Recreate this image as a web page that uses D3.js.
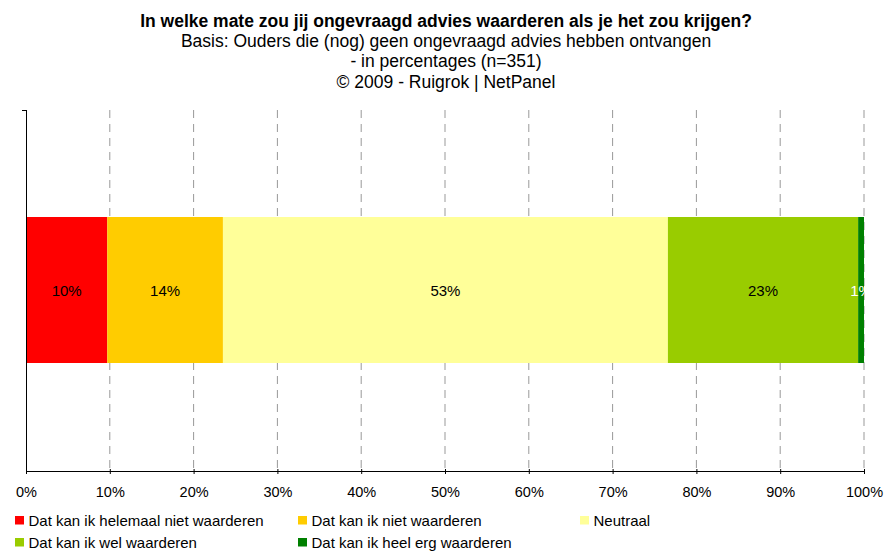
<!DOCTYPE html>
<html>
<head>
<meta charset="utf-8">
<script src="https://cdn.jsdelivr.net/npm/d3@7"></script>
<style>
  body { margin: 0; background: #fff; }
  svg { font-family: "Liberation Sans", Arial, sans-serif; }
</style>
</head>
<body>
<script>
const width = 895;
const height = 552;

// Data
const categories = ['Dat kan ik helemaal niet waarderen', 'Dat kan ik niet waarderen', 'Neutraal', 'Dat kan ik wel waarderen', 'Dat kan ik heel erg waarderen'];
const values = [9.7, 13.8, 53.1, 22.7, 0.7];
const labels = ['10%', '14%', '53%', '23%', '1%'];
const colors = ['#ff0000', '#ffcc00', '#ffff99', '#99cc00', '#008000'];
const labelColors = ['#000', '#000', '#000', '#000', '#fff'];
const tickValues = [0, 10, 20, 30, 40, 50, 60, 70, 80, 90, 100];
const titleLines = [
  'In welke mate zou jij ongevraagd advies waarderen als je het zou krijgen?',
  'Basis: Ouders die (nog) geen ongevraagd advies hebben ontvangen',
  '- in percentages (n=351)',
  '\u00A9  2009 - Ruigrok | NetPanel'
];

const plot = { left: 26, right: 864, top: 110, bottom: 471 };

const svg = d3.select('body').append('svg')
  .attr('width', width)
  .attr('height', height);

// Titles
const titleY = [26.5, 46.5, 67, 88];
svg.selectAll('text.title')
  .data(titleLines)
  .enter().append('text')
  .attr('class', 'title')
  .attr('x', 446)
  .attr('y', (d, i) => titleY[i])
  .attr('text-anchor', 'middle')
  .attr('font-size', (d, i) => i === 0 ? '17.5px' : '17.5px')
  .attr('font-weight', (d, i) => i === 0 ? 'bold' : 'normal')
  .text(d => d);

const x = d3.scaleLinear().domain([0, 100]).range([plot.left, plot.right]);

// Grid lines
svg.append('g')
  .selectAll('line')
  .data(tickValues.filter(d => d > 0))
  .enter().append('line')
  .attr('x1', d => x(d))
  .attr('x2', d => x(d))
  .attr('y1', plot.top)
  .attr('y2', plot.bottom)
  .attr('stroke', '#999')
  .attr('stroke-dasharray', '8,6')
  .attr('stroke-width', 1);

// Stacked segments
let acc = 0;
const segs = values.map((v, i) => {
  const s = { start: acc, end: acc + v, color: colors[i], label: labels[i], labelColor: labelColors[i] };
  acc += v;
  return s;
});

svg.append('defs').append('clipPath').attr('id', 'plotclip')
  .append('rect')
  .attr('x', plot.left).attr('y', plot.top)
  .attr('width', plot.right - plot.left + 1)
  .attr('height', plot.bottom - plot.top);

const barY = 217, barH = 146;

svg.append('g')
  .selectAll('rect')
  .data(segs)
  .enter().append('rect')
  .attr('x', d => x(d.start))
  .attr('y', barY)
  .attr('width', d => x(d.end) - x(d.start))
  .attr('height', barH)
  .attr('fill', d => d.color);

svg.append('g')
  .attr('clip-path', 'url(#plotclip)')
  .selectAll('text')
  .data(segs)
  .enter().append('text')
  .attr('x', d => (x(d.start) + x(d.end)) / 2)
  .attr('y', 295.5)
  .attr('text-anchor', 'middle')
  .attr('font-size', '15px')
  .attr('fill', d => d.labelColor)
  .text(d => d.label);

// Left axis
svg.append('line')
  .attr('x1', plot.left + 0.5).attr('x2', plot.left + 0.5)
  .attr('y1', plot.top).attr('y2', plot.bottom)
  .attr('stroke', '#000');
svg.append('line')
  .attr('x1', plot.left - 4).attr('x2', plot.left)
  .attr('y1', plot.top + 0.5).attr('y2', plot.top + 0.5)
  .attr('stroke', '#000');

// Bottom axis
const xAxis = svg.append('g')
  .attr('transform', `translate(0, ${plot.bottom})`)
  .call(d3.axisBottom(x).tickValues(tickValues).tickFormat(d => d + '%').tickSizeOuter(0).tickSizeInner(4));
xAxis.select('.domain').attr('stroke', '#000');
xAxis.selectAll('.tick line').attr('stroke', '#000').attr('y1', -2).attr('y2', 3);
xAxis.selectAll('.tick text')
  .attr('font-family', '"Liberation Sans", Arial, sans-serif')
  .attr('font-size', '14.5px')
  .attr('fill', '#000')
  .attr('y', 26)
  .attr('dy', 0);

// Legend
const legendPos = [[15, 520], [298, 520], [580, 520], [15, 542], [298, 542]];
const legend = svg.append('g')
  .selectAll('g')
  .data(categories)
  .enter().append('g')
  .attr('transform', (d, i) => `translate(${legendPos[i][0]}, ${legendPos[i][1]})`);
legend.append('rect')
  .attr('x', 0).attr('y', -4)
  .attr('width', 9).attr('height', 8.5)
  .attr('fill', (d, i) => colors[i]);
legend.append('text')
  .attr('x', 13.5)
  .attr('y', 5.7)
  .attr('font-size', '15px')
  .attr('fill', '#000')
  .text(d => d);
</script>
</body>
</html>
